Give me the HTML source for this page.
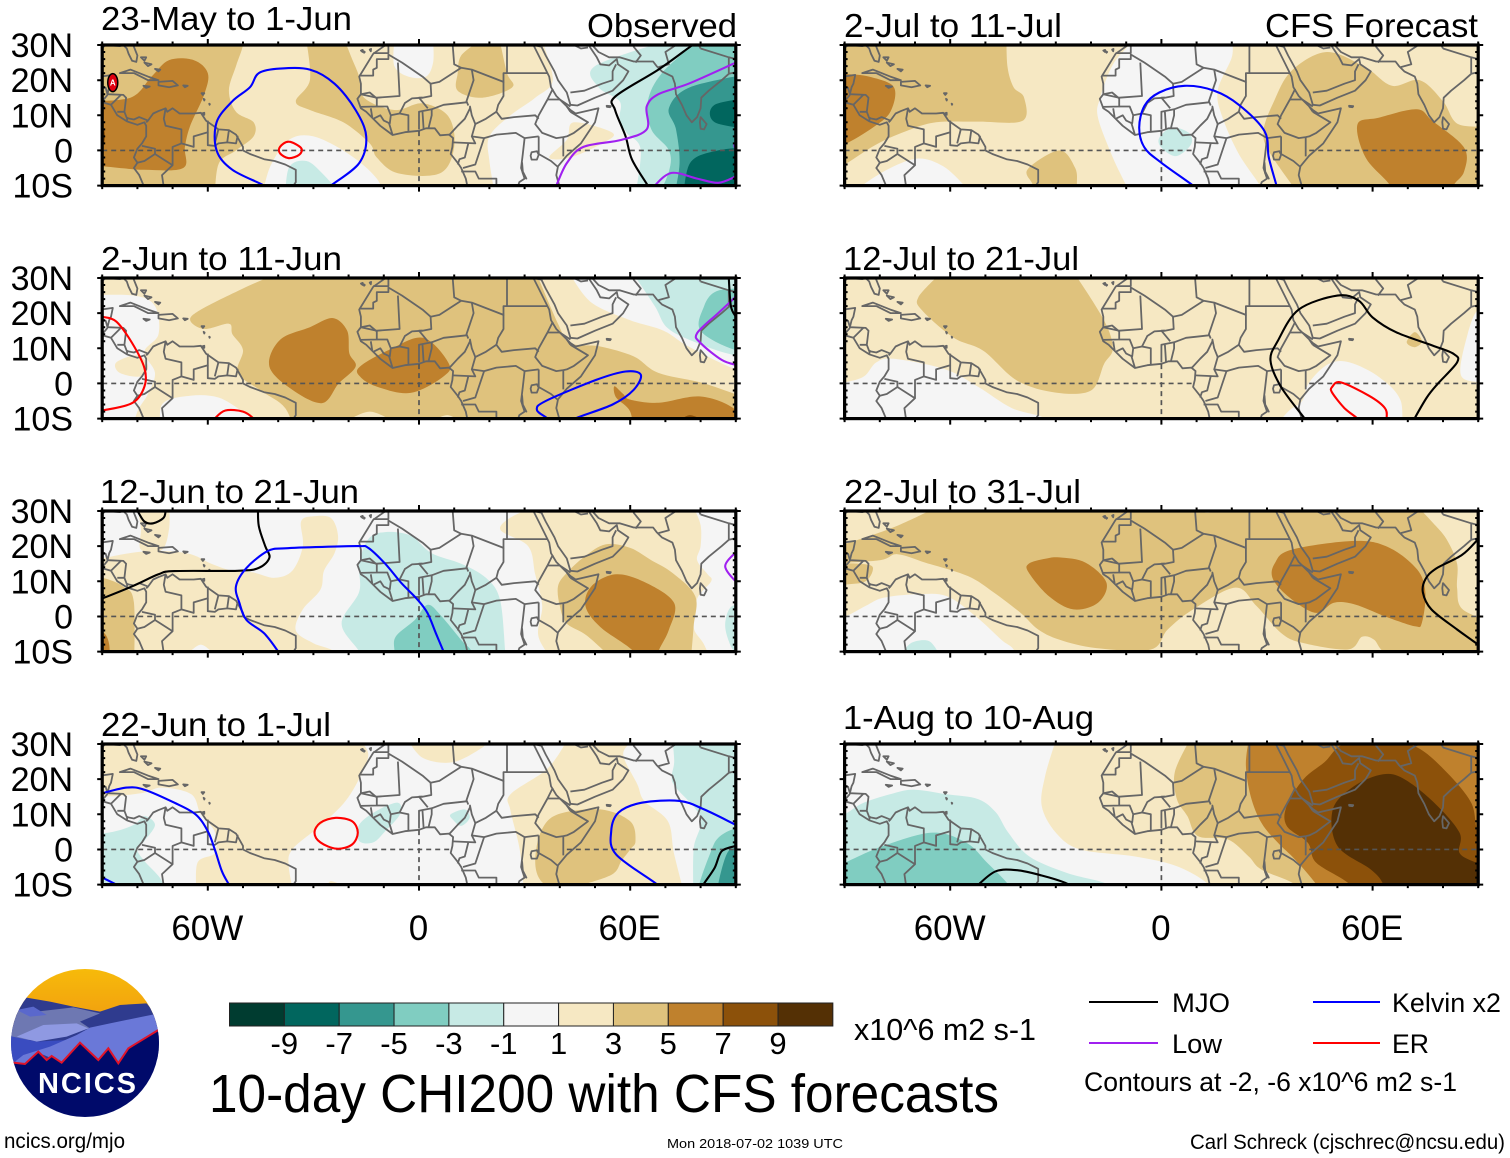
<!DOCTYPE html>
<html lang="en">
<head>
<meta charset="utf-8">
<title>10-day CHI200 with CFS forecasts</title>
<style>
html,body{margin:0;padding:0;background:#fff;width:1510px;height:1158px;overflow:hidden}
svg{display:block;font-family:"Liberation Sans",Arial,sans-serif}
</style>
</head>
<body>
<svg id="chart" xmlns="http://www.w3.org/2000/svg" width="1510" height="1158" viewBox="0 0 1510 1158">
  <rect x="0" y="0" width="1510" height="1158" fill="#fff"/>
  <g id="panels"></g>
  <g id="colorbar"></g>
  <text x="854" y="1040" font-size="31" textLength="182" lengthAdjust="spacingAndGlyphs">x10^6 m2 s-1</text>
  <text x="209" y="1112" font-size="54" textLength="790" lengthAdjust="spacingAndGlyphs">10-day CHI200 with CFS forecasts</text>
  <g>
    <line x1="1089" x2="1158" y1="1002" y2="1002" stroke="#000" stroke-width="2"/>
    <text x="1172" y="1012" font-size="27" textLength="58" lengthAdjust="spacingAndGlyphs">MJO</text>
    <line x1="1313" x2="1380" y1="1002" y2="1002" stroke="#0000ff" stroke-width="2"/>
    <text x="1392" y="1012" font-size="27" textLength="109" lengthAdjust="spacingAndGlyphs">Kelvin x2</text>
    <line x1="1089" x2="1158" y1="1043" y2="1043" stroke="#a020f0" stroke-width="2"/>
    <text x="1172" y="1053" font-size="27" textLength="50" lengthAdjust="spacingAndGlyphs">Low</text>
    <line x1="1313" x2="1380" y1="1043" y2="1043" stroke="#ff0000" stroke-width="2"/>
    <text x="1392" y="1053" font-size="27" textLength="37" lengthAdjust="spacingAndGlyphs">ER</text>
    <text x="1084" y="1091" font-size="27" textLength="373" lengthAdjust="spacingAndGlyphs">Contours at -2, -6 x10^6 m2 s-1</text>
  </g>
  <text x="4" y="1148" font-size="21" textLength="121" lengthAdjust="spacingAndGlyphs">ncics.org/mjo</text>
  <text x="667" y="1148" font-size="13" textLength="176" lengthAdjust="spacingAndGlyphs">Mon 2018-07-02 1039 UTC</text>
  <text x="1190" y="1149" font-size="21" textLength="315" lengthAdjust="spacingAndGlyphs">Carl Schreck (cjschrec@ncsu.edu)</text>
  <g>
    <defs>
      <clipPath id="logoClip"><circle cx="85" cy="1043" r="74"/></clipPath>
      <linearGradient id="logoSky" x1="0" y1="0" x2="0" y2="1"><stop offset="0" stop-color="#f7bb0a"/><stop offset="1" stop-color="#f09a10"/></linearGradient>
    </defs>
    <g clip-path="url(#logoClip)">
      <rect x="10" y="968" width="150" height="60" fill="url(#logoSky)"/>
      <g transform="translate(0,960) scale(0.3333)">
        <polygon fill="#2f3b8e" points="30,190 75,112 150,125 220,140 300,155 360,135 440,130 490,190 490,300 30,300"/>
        <polygon fill="#6e78b2" points="30,170 60,150 110,155 220,142 300,160 240,185 270,205 100,240 30,240"/>
        <polygon fill="#5a68cc" points="50,150 100,140 140,165 90,170"/>
        <polygon fill="#3a4cc0" points="30,228 110,245 200,240 120,290 50,310 30,310"/>
        <polygon fill="#8f99e2" points="50,230 130,195 230,190 265,205 200,230 110,245"/>
        <polygon fill="#6a78d8" points="45,305 70,285 150,260 230,225 270,203 330,190 462,163 480,210 380,270 355,310 295,300 240,248 185,308 120,280 75,312"/>
        <polygon fill="#000a6a" points="35,305 75,312 115,275 140,300 155,288 185,308 240,248 295,300 325,265 355,310 385,265 480,208 490,480 30,480"/>
        <polyline fill="none" stroke="#e0142a" stroke-width="6" points="40,308 75,312 115,275 140,300 155,288 185,308 240,248 295,300 325,265 355,310 385,265 475,210"/>
      </g>
      <text x="38" y="1093" font-size="29" font-weight="bold" fill="#fff" textLength="98" lengthAdjust="spacing">NCICS</text>
    </g>
  </g>
</svg>
<script>
// ---- axis tick labels
const lonTickValues = [-60, 0, 60];
const lonTickLabels = ["60W", "0", "60E"];
const latTickValues = [30, 20, 10, 0, -10];
const latTickLabels = ["30N", "20N", "10N", "0", "10S"];

// ---- colour scale
const barLevels = [-10, -8, -6, -4, -2, 0, 2, 4, 6, 8, 10];
const barColors = ["#003c30", "#01665e", "#35978f", "#80cdc1", "#c7eae5", "#f5f5f5", "#f6e8c3", "#dfc27d", "#bf812d", "#8c510a", "#543005"];
const barTickLabels = ["-9", "-7", "-5", "-3", "-1", "1", "3", "5", "7", "9"];

// ---- panel titles
const panelTitles = ["23-May to 1-Jun", "2-Jun to 11-Jun", "12-Jun to 21-Jun", "22-Jun to 1-Jul", "2-Jul to 11-Jul", "12-Jul to 21-Jul", "22-Jul to 31-Jul", "1-Aug to 10-Aug"];

// ---- background CHI200 level per panel (x10^6 m2 s-1)
const panelBaseLevels = [2, 2, 0, 0, 2, 2, 2, 0];

// ---- filled anomaly regions: [level, [lon,lat,lon,lat,...]]  painted in order
const fills1 = [
  [4, [-95,35,-50,35,-50,30,-52,24,-54,17,-52,11,-47,8,-47,4,-52,0,-57,-4,-58,-15,-95,-15]],
  [6, [-95,14,-82,15,-76,21,-71,25.7,-64,25.7,-60,22,-61,16,-65,7,-66.5,1,-67,-5,-78,-5.5,-90,-4.5,-95,-4]],
  [8, [-92,10,-89.5,6,-89.5,2,-92,-2]],
  [4, [-32,31,-21,31,-19,26,-17,21,-15.6,15,-7,11.5,1,13.4,8.4,9.6,10,1,6,-6.5,-6,-6.5,-12,-2,-14,2,-21.5,8,-31,11.5,-35,14,-31,20]],
  [4, [12,27,17,31,23,31,25,22,26.5,18,18,15,11,17,11,22]],
  [0, [-7,31,-7,24,-3,21,2,21,4,25,4,31]],
  [0, [-44,-10.5,-42,-4,-37,3,-30,4,-20,-1,-12,-8,-9,-15,-44,-15]],
  [-2, [-38,-15,-37,-5,-32,-3,-27,-7,-20,-15]],
  [0, [35,31,38,20,33,15,26,10,20,4,20,-3,22,-15,100,-15,100,31]],
  [2, [37,-2,42,3,44,8,55,5,52,2,43,-2]],
  [-2, [70,31,50,24,51,18,57,14,57,9,59,5,63,0,61,-15,100,-15,100,31]],
  [-4, [79,31,69,22,65,14,66,6,71,0,71,-6,67,-15,100,-15,100,31]],
  [-6, [95,22,77,18,71,12,73,6,74,-4,72,-15,100,-15,100,22]],
  [-8, [95,15,84,13,84,8,95,6]],
  [-8, [95,1,85,0,77,-3.6,75,-15,100,-15]]
];
const fills2 = [
  [4, [-41,31,-50,27,-62,21,-65,18,-61,15.5,-54,17,-53,14,-50,9.5,-51.5,3,-45,-2,-38,-7,-35,-15,95,-15,95,-5,81,0,68,3,61,7.7,51.5,10.5,43,11.5,39.5,17,33.5,31]],
  [6, [-24.5,18.6,-20.4,15,-19.8,8.6,-18,4.8,-22.8,0,-27.5,-5.6,-36,-1.8,-42.5,4.8,-39.5,12.4,-31,16]],
  [6, [-16.8,4.8,-8.4,9.6,1.2,13,8.4,5.8,7,2,-2.4,-2.7,-12,-0.9,-16.8,2]],
  [6, [55.5,-0.8,58,-3,60,-4.6,68,-5.5,80,-3.7,90,-7.5,95,-15,61,-15,60,-8,56,-4]],
  [8, [74,-10.5,77,-9,81,-10.5]],
  [2, [-21,-11,-14,-8,-7,-11]],
  [2, [3,-11,8,-9,12,-11]],
  [0, [-95,25,-81,25,-75,22,-74,14,-78,9,-75,3,-77,-3,-80,-8,-82,-15,-95,-15]],
  [2, [-86,6,-80,8,-77,5,-79,2,-85,3]],
  [0, [-73,-15,-73,-6,-65,-3.5,-57,-4,-50,-8,-45,-11,-44,-15]],
  [2, [43,31,100,31,100,2,90,5,76,11,70,15,60,18,49,23]],
  [0, [43,31,49,23,60,18,69.5,15,76.6,10.5,90,4,100,2,100,31]],
  [-2, [61,31,67,22,70.7,15.7,79,11.5,90,8,100,8,100,31]],
  [-4, [90,27,84,26,81,22,80,15,90,9.5,100,9,100,27]]
];
const fills3 = [
  [2, [-95,15,-90,16.5,-78,18.5,-66,18,-59,15,-53,13,-47,12.5,-41,11,-36,13,-33,20,-33.5,27,-30,28.5,-25,28,-23,23,-24,18,-27,13,-28,7.6,-33,2,-35,-4,-30,-7.6,-24,-10,-21,-15,-95,-15]],
  [2, [-80,31,-71,31,-71,25,-73,19,-79,19,-79,25]],
  [0, [-66,-11,-62,-8,-58,-11]],
  [4, [-95,11,-90,11,-84,8.5,-81,4,-81,-15,-95,-15]],
  [6, [-95,-4,-90,-4.3,-88,-8,-88,-15,-95,-15]],
  [-2, [-9.6,24,-2.4,23,3.6,18,12,15,19,11,23,4.8,24.5,-10,25,-15,-15,-15,-17,-10,-22,-2,-17,7,-17,15,-14.4,22]],
  [-4, [2.4,3.3,6,0.5,12,-6.7,15,-10,16,-15,-7,-15,-7,-10,-6.6,-5.7,-1.2,-1]],
  [2, [23,25,30,30,40,31,78,31,80,26,80,20,79,16,82,12,83,10,79,5,78,-3,81,-8,84,-15,40,-15,34,-6,35,3,33,12,31,20]],
  [4, [53,20.5,60,19.5,66,16,72,12.4,78.5,5.7,78,-3,77,-15,58,-15,48,-5.7,42,-2,40,3,39.5,8.6,42,12.4,47,17]],
  [6, [56,12,64.7,9.5,72.5,3.8,71,-3.8,68,-10,67,-15,62,-15,61,-10,51.5,-3,47.3,2.9,49,8.6]],
  [-2, [95,3,89,3,87,-2,88,-7,90,-10,95,-10]]
];
const fills4 = [
  [2, [-95,18,-90,15.2,-79,16,-73,17.6,-64.7,15.7,-62,10,-58,5,-58,-1,-63,-4,-63,-15,-35,-15,-37,-5,-36,0,-29,6,-21.5,13,-16.8,20.5,-14.4,27,-16.8,31,-95,31]],
  [2, [-3,31,1.2,26,9.6,24.8,18,29,19,31]],
  [2, [-26,-11,-25,-9,-20,-11]],
  [2, [42,31,36.5,23,26,15.7,26,11,28.7,-0.5,30,-15,76,-15,72.5,-1.4,70.7,8,64,13.8,62,18.6,58,27,61,31]],
  [4, [39.5,10,51.5,11.4,60,8,61.5,2.4,60,0,57.5,-3.3,55,-7,46.7,-10,40,-12,34.7,-9,33,-3.3,34.7,5.2]],
  [-2, [72,31,72.5,25,71.8,20.5,73,17.6,80,9,78,0,78,-15,100,-15,100,31]],
  [-4, [95,6,90,6,85,3.3,82.6,-1.4,79.6,-10,79,-15,95,-15]],
  [-6, [95,0.5,90,0.5,87.4,-1.4,85,-10,85,-15,95,-15]],
  [-2, [-95,4,-87,5,-81,7,-78,9.5,-75,7,-78,2.4,-80,0,-78,-3.3,-73,-9,-72,-15,-95,-15]],
  [-2, [-17,2.4,-17,7,-12,11,-6,13.3,-5.4,10,-9.6,5.2,-13,2]],
  [-2, [9,10,13,11.4,14.4,9,12,6.7,9.6,8.5]]
];
const fills5 = [
  [4, [-95,31,-44,31,-43.7,23.6,-42,18,-39,15,-39.5,8.4,-52,8.2,-64,8,-72.5,5.5,-81,1.7,-90,-4,-95,-6]],
  [6, [-95,21.7,-89,21.7,-83,21,-76,18,-77,11,-82,6.5,-90,1.7,-95,0]],
  [0, [-90,-15,-85,-10,-77,-5,-69,-2.3,-62,-4.5,-56,-10,-52,-15]],
  [4, [-38,-5.4,-29,0,-24.5,-5,-24,-10,-24,-15,-37,-15,-36.5,-10]],
  [0, [-8,31,-13.7,24.6,-17.4,15,-18,9.3,-13.8,-2,-10,-10,-8,-15,30,-15,28,-10,22,-1,17.4,9.3,16,17,20,26.5,20,31]],
  [-2, [3,6.5,7.8,5,8.4,1.7,4.2,-1.6,0,0.8,-0.6,3.6]],
  [4, [47,28,58,23.6,65.5,18.4,73.4,20,80,14,84.5,7.4,95,7,95,-15,41,-15,31,-1,29,5.5,32,14,37,22.7]],
  [6, [72.5,11.7,77,8.4,86,0.8,86,-6,83,-10,82,-15,66,-15,65,-10,58,-2,55.7,7.4,61.7,9.3]]
];
const fills6 = [
  [4, [-63,31,-69,24.6,-68,20.8,-59,13,-50.6,9.3,-41,0.8,-30,-2.6,-20,-2,-16.3,5.5,-13.8,10,-16.3,18,-24.5,31]],
  [0, [-95,0,-90,0.3,-84.5,2,-81,6,-76,7,-61.4,4,-52,-1,-42.5,-7,-33,-10,-30,-15,-95,-15]],
  [0, [42,0.3,47.4,5.5,53.4,6,62,1.7,68,-5,68,-15,30,-15,36,-8,40,-5]],
  [0, [95,21,90,21,87,14,85,2.7,90,0.3,95,0]],
  [4, [72,14.6,74,12,72,10.3,69.7,11.7]]
];
const fills7 = [
  [4, [-64,31,-77,25,-95,19,-95,15,-80,16,-75,17.7,-67,15.3,-55,11.5,-47.6,6.8,-40,1,-35,-3.7,-29,-6.6,-18.5,-9,-3,-9.4,1.8,-3.7,9,2,21,8.2,27,3,34,-4.7,40,-7.5,53,-9.4,57,-5.8,60.4,-6.6,63,-10,70,-15,95,-15,95,-2,85.6,2,84,8,84,15,81,22,77,26.8,73,31]],
  [4, [-95,15,-86,15,-82,14,-84,10,-90,9,-95,8]],
  [2, [9,31,13,29.5,20,31]],
  [0, [-95,0,-90,0,-84,3,-79,5.3,-69.5,6.3,-61,5.8,-52.7,0,-45.5,-6.6,-42,-9.4,-40,-15,-95,-15]],
  [-2, [-74,-11,-71,-7.5,-66,-7,-63,-11]],
  [6, [-37.7,15,-33,16.4,-29,16.8,-21.5,15.3,-15.6,9.6,-18,3.9,-25,2,-32,5.8,-37.7,12.5]],
  [6, [37,19,55,21.5,64.7,19.6,72.6,13.4,75,6.8,74,-1.8,72,-2.8,63.6,0,55,3.4,49,3.9,44,1,37,4.9,31.7,10.6,32.3,15.3]]
];
const fills8 = [
  [-2, [-95,8,-90,10,-84.6,13.3,-76,16,-70,17,-61,15.7,-52,14.3,-47,10.5,-43.5,4.8,-37.5,-2,-26.8,-6.7,-15,-10,-10,-15,-95,-15]],
  [-4, [-95,-6,-90,-3.8,-79,1,-65,4.8,-55.4,1.9,-49.5,-3.8,-43.5,-10,-41,-15,-95,-15]],
  [2, [-30,31,-33,21,-34,12.4,-30,4.8,-23,0,-7.5,-2,4.4,-4.8,13.4,-10,15,-15,95,-15,95,31]],
  [4, [8,31,3.8,22,4.4,14.3,7.4,9.5,10.4,3.8,18.8,2.9,24.8,-2,28.4,-5.7,38,-10,40,-15,95,-15,95,31]],
  [6, [24.8,31,24,23.8,25.4,15,28.4,7.6,33,2,38,-2.9,44,-10,46,-15,95,-15,95,31]],
  [8, [52,30,64,30.5,72.7,29,81,22,88,13.3,90,5,95,3,95,-15,53.5,-15,53.5,-10,44,-3.8,41.6,1.9,35.6,6.7,35.6,12.4,40.4,20,46.3,24.8]],
  [10, [63,21.4,69,20,77.5,13.3,84.7,4.8,84.7,-1,89.5,-3.8,95,-6,95,-15,63,-15,63,-10,59.5,-5.7,50,1,48.7,11.4,54.7,18]]
];
const allFills = [fills1, fills2, fills3, fills4, fills5, fills6, fills7, fills8];

// ---- filtered-wave contours: [wave, closed, [lon,lat,...]]
const contours1 = [
  ["kelvin", false, [-42,-12,-44,-10,-53,-5.5,-57.5,0,-57.5,8,-53,14,-48,18,-45.5,22,-39.5,23.3,-31,23,-24,19,-18,11.5,-15,4,-17,-3.6,-25,-10,-27,-12]],
  ["er", true, [-39.5,1,-37,2.5,-33.5,0.7,-34,-1.2,-37,-2.2,-39.5,-0.8]],
  ["mjo", false, [79,31,77,29.5,68,23,55.7,15.3,55.7,11.5,58.7,4,60.5,-2.6,65,-10,66,-12]],
  ["low", false, [38,-12,39,-10,42,-3.6,46.7,1,57.5,3,64.7,6,64.7,12.5,68,16,76.6,19,90,25]],
  ["low", false, [66,-12,67,-10,71.8,-6.4,79,-8,85,-9.2,90,-7.4]],
  ["low", false, [91,4,89.6,1.5,91,-1]]
];
const contours2 = [
  ["er", false, [-92,19.5,-90,19,-86,17.6,-81.5,11.5,-78,4.4,-78,-0.9,-81.5,-5.6,-90,-7.7,-92,-8]],
  ["er", false, [-59,-12,-58,-10,-55,-7.7,-50,-8,-47,-10,-46,-12]],
  ["kelvin", false, [38,-12,36.5,-10,33.5,-7.5,36,-5,50.3,1,58.7,3.4,63,2.5,61,-1.8,55,-6,44.3,-10,42,-12]],
  ["low", false, [90,24.7,85,20,79,14.3,80,11.5,86,6.7,90,5.3]],
  ["mjo", false, [88,30,88.6,22,90,19]]
];
const contours3 = [
  ["mjo", false, [-81,31,-80,30,-78,27,-75.5,26.5,-72.6,28,-72,30,-72,31]],
  ["mjo", false, [-45.7,31,-45.5,25.7,-43.7,20,-42.5,16.7,-45.5,13.8,-51.5,13,-69.5,12.9,-74,12,-81.4,8.6,-90,5.1]],
  ["kelvin", false, [8,-12,7,-10,4.8,-4.8,2.4,1,-0.6,5,-5,9.5,-9.6,15,-14.4,19.5,-17,20,-27.5,19.8,-38,19.4,-43,18.6,-49,13.8,-52,8.6,-51,3.8,-49,-1,-44,-4.8,-40,-10,-39,-12]],
  ["low", false, [91,19,87,14.3,91,9]]
];
const contours4 = [
  ["kelvin", false, [-92,15.5,-90,16,-83,17.6,-78,17,-69.5,13.3,-63.5,10,-60,5.2,-58,0,-56,-6.2,-54,-10,-53,-12]],
  ["kelvin", false, [-92,-7,-90,-8,-86,-10,-84,-11]],
  ["kelvin", false, [69,-12,67.7,-10,56,-1.4,54.6,5.2,56.7,10.5,63.3,13.3,74,13.8,81,11.4,90,7]],
  ["er", true, [-23.6,9,-19,8,-17.4,4.8,-19,1.4,-23.4,0.2,-28,2,-29.7,4.8,-28,7.6]],
  ["mjo", false, [80,-12,80.8,-10,84,-5.2,86,-0.5,90,1]]
];
const contours5 = [
  ["kelvin", false, [11,-12,9,-10,0,-3.5,-4.8,0.8,-6.3,6.5,-4.8,12.7,-0.6,16.5,6.6,18.4,15,17,22,13,29.3,5.5,30.5,-2,32.7,-10,33,-12]]
];
const contours6 = [
  ["mjo", false, [42,-12,40.7,-10,34,-1,31,6.5,33,12,39,21,50,25,56,23.6,60,18.8,66.6,14.6,77,10.8,83,8.4,84,6,78.4,-0.2,75.4,-4,71.9,-10,71,-12]],
  ["er", false, [57,-12,55.7,-10,52,-7,48.5,-2.6,48.5,-1,51,0.3,59,-3.5,63.5,-7,64,-10,64,-12]]
];
const contours7 = [
  ["mjo", false, [91,23,90,22,85.4,17.5,78,13.6,75,10.6,74.3,6.8,76.7,2,84,-3.7,90,-8]]
];
const contours8 = [
  ["mjo", false, [-54,-12,-52,-10,-47,-6.2,-41,-5.9,-34,-7.4,-27.3,-9.5,-25,-11]]
];
const allContours = [contours1, contours2, contours3, contours4, contours5, contours6, contours7, contours8];

// ---- tropical cyclone marker in first panel [lon,lat]
const cycloneMarker = [-87, 19.3];

// ---- coastlines and political borders [lon,lat,...]
const coastLines = [
  [-95,29,-90,29.2,-89,30,-85,29.7,-84,30,-83,29,-82.5,27.5,-81.5,25.5,-80.3,25.2,-80,27,-81.2,30,-81.5,31],
  [-92,18.5,-90.5,19,-90.3,21,-87,21.5,-87.5,19,-88,18,-88.5,16,-84,15.8,-83.2,15,-83.7,11,-83,9.2,-81,8.8,-79.5,9.5,-77,8.5,-75.5,10.5,-74,11.2,-72,12,-71.5,11,-70,12,-68,10.5,-64,10.5,-62,10.7,-60.5,8.5,-57,6,-54,5.8,-52,4.5,-50,1,-50,0,-48,-1,-44,-2.5,-41,-3,-38,-4,-35,-5.5,-35,-9,-36,-10.5],
  [-92,14.5,-90,13.7,-87.5,13,-85.7,10,-83,8.3,-80,7.3,-78,8,-77.5,7,-77.5,4,-78.7,2,-80,0.5,-81,-2,-80,-3.5,-81,-5,-79.5,-7,-78,-10.5],
  [-90.5,17.8,-89,17.8,-88.5,16],
  [-90,14,-88.5,15.8],[-87.5,13,-84.7,15.8],[-85.7,11,-83.7,11],[-83,8.3,-82.8,9.5],[-77.5,8,-77,8.5],
  [-72,12,-72.5,9,-72,7,-67.5,6,-67.5,2,-70,1,-70,-4.2],
  [-80,-3.5,-78,-3,-75,-1,-70,-4.2,-73,-7,-72.5,-10.5],
  [-78.7,1.3,-75,0.5,-75,-1],
  [-67.5,2,-64,1,-64,4,-60,5.2,-60,8.5],
  [-60,5.2,-60,1.5,-58,1.3,-57,2,-54.5,2.3,-52,2,-51.5,4.2],
  [-57,6,-58,2],[-54,5.8,-54.5,2.3],
  [-9.5,31,-9.5,30,-13,27.5,-17,21,-16.5,19,-16.5,16,-17.5,14.7,-16.5,12,-15,11,-13,9,-11,7,-7.5,4.4,-4,5.2,0,5.6,2,6.3,4.5,6.3,6,4.3,8.5,4.5,9.7,3.5,9.5,1,9,-1,11,-3.5,12,-5,13.3,-8,13.8,-10.5],
  [32.5,31,32.5,30,34,27,35.5,24,37,21,37.5,18,39,15.5,43,11.5,44.5,10.5,51,12,50,8,46,2,42,-1.5,39.5,-4.5,39,-7,40,-10.5],
  [34.8,29.5,36,27,38.5,22.5,39.5,20,42,16.5,43,13,45,12.8,50,15,55,17,58,20,59.5,22.5,56.5,24.5,56.2,26,54,24.2,51.5,24.5,50.5,26.5,48.5,29.5,48,31],
  [49,30.2,51,28,54,26.5,57,26.5,61,25.3,66.5,25.3,67.5,24,69,22.5,72,21,72.7,19,73,16,74.7,13,76,10,77.5,8,79,9.5,80,12,80.2,15,82.3,17,86,20,88,21.8,91,22.5],
  [32.5,30,34.8,29.5],
  [-13,27.7,-8.7,27.7,-8.7,31],
  [-17,21.3,-13,21.3,-13,23,-12,23.5,-12,26,-8.7,26,-8.7,27.3,-4.8,25,1,21,3.3,19,5.8,19.5,12,23.5,10,24.5,9.5,31],
  [-6,25,-5.5,15.5,-12,15,-16.5,16],
  [12,23.5,15,23,24,19.5,24,22,25,22,25,31],
  [25,22,36.5,22],
  [24,19.5,24,15.5,22.5,13,22,11,23.5,9,27,9.5,33,10,34,9],
  [15,23,15.5,20,13.5,14,14,12.8],
  [3.3,19,3.5,15.5,1,15,-2,14.8,-4,13.5,-5.5,10.5,-3,10,-3,5.2],
  [3.6,11.7,7,13,10,13.3,13.5,13.7],
  [2.7,6.3,3.6,10,3.6,11.7,0,11,0,6],
  [1.3,6.2,1,11],[1,15,0,15,2.5,12],
  [8.7,4.5,11,7,13,9,14.5,12,14.5,12.5,15,10,16,7.5,19,9,22,11],
  [9.7,2.3,16,2,15,4,16,7.5],
  [15,4,18.5,3.5,22,4.5,27.5,5,30,3.5,34,4],
  [36.5,14.5,34,10,33,7.5,35,5,39,3.5,41,3.8,42,4,44,5,48,8,43,11],
  [36.5,14.5,38,17.5],[36.5,14.5,40,14.5,43,12.5],[42,12.5,43,11],
  [41,-1.7,41,3.8],[34,4,34,1,34,-1,37.5,-3,39.5,-4.7],
  [18.5,3.5,17,-1,16,-4,12.5,-5],
  [12,-6,16,-6,17,-8,22,-8,22,-10.5],
  [30,3.5,29.5,-1,29,-5,30,-8,28.5,-9,28,-10.5],
  [14,2,13,-2,11.5,-2.5,11,-4],
  [-16.5,16,-14,16.5,-12,14.8,-12,12.5,-16.7,12.4],
  [-13.7,12,-13.3,9.5],[-12,12.5,-9,12.5,-8,10,-8.3,7.7,-10,8.5,-11,10,-13,9],[-8.5,7.7,-7.5,4.4],[-8,10,-5.5,10.5],
  [43,16.5,47,17,52,19,55,20,55,22.5,56,24.5],
  [36,31,37,30,39,31],[48,29.3,46,29,44,30,42,31],
  [68,23.7,71,24.5,70,28,73,30,74,31],
  [61.5,25,63,27,61,29.5,61,31],
  [80,29,88,26.5,88,22],[88,26.5,92,25.5,92,21],[80,29,79,31]
];
const closedLakesIslands = [
  [32,-0.5,33.5,-0.2,34,-1.2,33.5,-2.6,32,-2.6,31.7,-1.5],
  [29.3,-3.5,29.5,-6,30.5,-8,29.5,-6.5],
  [80,9.5,81.7,7.5,81,6,80,6.2,79.8,8],
  [-85,22,-82,23,-77,21,-74,20,-77,20,-81,22],
  [-74,19.5,-70,19.8,-68.5,18.5,-71,18,-74,18.5],
  [-78.3,18.4,-76.5,18.2,-77.5,17.8],
  [-67,18.5,-65.7,18.4,-66.5,18],
  [-79,26.5,-77.5,26.5,-78,25.5],[-78,25,-77,24,-76,24.5],[-75,23.2,-74,22.5,-73.5,23],
  [-61.8,16.3,-61,16.3,-61.4,15.8],[-61.2,14.7,-60.9,14.5,-61,14.2],[-59.6,13.3,-59.4,13.2,-59.5,13],[-61.7,10.5,-61,10.7,-61,10.1],
  [-16.5,28.4,-16,28.6,-16,28],[-15.7,28.2,-15.4,28,-15.6,27.8],[-14,28.7,-13.6,28.9,-13.7,28.2],
  [53.3,12.7,54.5,12.6,54.3,12.3,53.4,12.4]
];

// ---- layout (pixels)
const NS = "http://www.w3.org/2000/svg";
const LEFT_COL = 102.2, RIGHT_COL = 844.6, PX_PER_DEG_X = 3.52, PX_PER_DEG_Y = 3.515;
const PANEL_TOPS = [45, 278, 511, 744];
const PANEL_W = 180 * PX_PER_DEG_X, PANEL_H = 40 * PX_PER_DEG_Y;
const waveColors = { mjo: "#000000", low: "#a020f0", kelvin: "#0000ff", er: "#ff0000" };

function levelColor(level) { return barColors[barLevels.indexOf(level)]; }
function make(tag) { return document.createElementNS(NS, tag); }
function xScale(left, lon) { return left + (lon + 90) * PX_PER_DEG_X; }
function yScale(top, lat) { return top + (30 - lat) * PX_PER_DEG_Y; }
function fmt(v) { return v.toFixed(1); }

function projectPoints(flat, left, top) {
  const out = [];
  for (let i = 0; i < flat.length; i += 2) {
    const offMap = flat[i] < -90 || flat[i] > 90 || flat[i + 1] > 30 || flat[i + 1] < -10;
    out.push([xScale(left, flat[i]), yScale(top, flat[i + 1]), offMap]);
  }
  return out;
}
function smoothPath(pts, closed) {
  const n = pts.length;
  const at = i => closed ? pts[(i + n) % n] : pts[Math.max(0, Math.min(n - 1, i))];
  let d = "M" + fmt(pts[0][0]) + " " + fmt(pts[0][1]);
  const last = closed ? n : n - 1;
  for (let i = 0; i < last; i++) {
    const p0 = at(i - 1), p1 = at(i), p2 = at(i + 1), p3 = at(i + 2);
    const k = 1 / 6;
    // off-map corners stay sharp so they do not bulge back into the frame
    const k1 = p1[2] ? 0 : k, k2 = p2[2] ? 0 : k;
    d += "C" + fmt(p1[0] + (p2[0] - p0[0]) * k1) + " " + fmt(p1[1] + (p2[1] - p0[1]) * k1) + " " +
      fmt(p2[0] - (p3[0] - p1[0]) * k2) + " " + fmt(p2[1] - (p3[1] - p1[1]) * k2) + " " + fmt(p2[0]) + " " + fmt(p2[1]);
  }
  return d + (closed ? "Z" : "");
}
function straightPath(pts, closed) {
  return "M" + pts.map(p => fmt(p[0]) + " " + fmt(p[1])).join("L") + (closed ? "Z" : "");
}

function drawPanel(index) {
  const col = index < 4 ? 0 : 1;
  const left = col === 0 ? LEFT_COL : RIGHT_COL;
  const top = PANEL_TOPS[index % 4];
  const root = document.getElementById("panels");

  const g = make("g");
  
  
  root.appendChild(g);

  const clip = make("clipPath");
  clip.setAttribute("id", "clip" + index);
  const clipRect = make("rect");
  clipRect.setAttribute("x", left);
  clipRect.setAttribute("y", top);
  clipRect.setAttribute("width", PANEL_W);
  clipRect.setAttribute("height", PANEL_H);
  clip.appendChild(clipRect);
  g.appendChild(clip);

  const plot = make("g");
  plot.setAttribute("clip-path", "url(#clip" + index + ")");
  
  
  g.appendChild(plot);

  const base = make("rect");
  
  
  base.setAttribute("x", left);
  base.setAttribute("y", top);
  base.setAttribute("width", PANEL_W);
  base.setAttribute("height", PANEL_H);
  base.setAttribute("fill", levelColor(panelBaseLevels[index]));
  plot.appendChild(base);

  allFills[index].forEach(function (shape) {
    const path = make("path");
    
    
    path.setAttribute("d", smoothPath(projectPoints(shape[1], left, top), true));
    path.setAttribute("fill", levelColor(shape[0]));
    plot.appendChild(path);
  });

  coastLines.forEach(function (line) {
    const path = make("path");
    
    
    path.setAttribute("d", straightPath(projectPoints(line, left, top), false));
    path.setAttribute("fill", "none");
    path.setAttribute("stroke", "#666");
    path.setAttribute("stroke-width", "1.8");
    path.setAttribute("stroke-linejoin", "round");
    plot.appendChild(path);
  });
  closedLakesIslands.forEach(function (line) {
    const path = make("path");
    
    
    path.setAttribute("d", straightPath(projectPoints(line, left, top), true));
    path.setAttribute("fill", "none");
    path.setAttribute("stroke", "#666");
    path.setAttribute("stroke-width", "1.8");
    path.setAttribute("stroke-linejoin", "round");
    plot.appendChild(path);
  });

  [[-90, 0, 9, 0], [42, 0, 90, 0], [0, 5.5, 0, -10]].forEach(function (s) {
    const ref = make("line");
    
    
    ref.setAttribute("x1", xScale(left, s[0]));
    ref.setAttribute("y1", yScale(top, s[1]));
    ref.setAttribute("x2", xScale(left, s[2]));
    ref.setAttribute("y2", yScale(top, s[3]));
    ref.setAttribute("stroke", "#555");
    ref.setAttribute("stroke-width", "1.7");
    ref.setAttribute("stroke-dasharray", "5 4");
    plot.appendChild(ref);
  });

  allContours[index].forEach(function (c) {
    const path = make("path");
    
    
    path.setAttribute("d", smoothPath(projectPoints(c[2], left, top), c[1]));
    path.setAttribute("fill", "none");
    path.setAttribute("stroke", waveColors[c[0]]);
    path.setAttribute("stroke-width", "2.1");
    plot.appendChild(path);
  });

  if (index === 0) {
    const cx = xScale(left, cycloneMarker[0]), cy = yScale(top, cycloneMarker[1]);
    const tc = make("ellipse");
    
    
    tc.setAttribute("cx", cx);
    tc.setAttribute("cy", cy);
    tc.setAttribute("rx", "5");
    tc.setAttribute("ry", "9");
    tc.setAttribute("fill", "#e00010");
    tc.setAttribute("stroke", "#000");
    tc.setAttribute("stroke-width", "1.5");
    g.appendChild(tc);
    const tcText = make("text");
    
    
    tcText.setAttribute("x", cx);
    tcText.setAttribute("y", cy + 3);
    tcText.setAttribute("font-size", "8");
    tcText.setAttribute("font-weight", "bold");
    tcText.setAttribute("fill", "#fff");
    tcText.setAttribute("text-anchor", "middle");
    tcText.textContent = "A";
    g.appendChild(tcText);
  }

  // frame
  const frame = make("rect");
  
  
  frame.setAttribute("x", left);
  frame.setAttribute("y", top);
  frame.setAttribute("width", PANEL_W);
  frame.setAttribute("height", PANEL_H);
  frame.setAttribute("fill", "none");
  frame.setAttribute("stroke", "#000");
  frame.setAttribute("stroke-width", "3.2");
  g.appendChild(frame);

  // ticks
  let tickD = "";
  for (let lon = -90; lon <= 90; lon += 10) {
    const x = xScale(left, lon), len = lon % 60 === 0 && lon !== 90 && lon !== -90 ? 6 : 3.5;
    tickD += "M" + fmt(x) + " " + fmt(top) + "V" + fmt(top - len);
    tickD += "M" + fmt(x) + " " + fmt(top + PANEL_H) + "V" + fmt(top + PANEL_H + len);
  }
  for (let lat = -10; lat <= 30; lat += 2) {
    const y = yScale(top, lat), major = lat % 10 === 0, len = major ? 5 : 3;
    tickD += "M" + fmt(left) + " " + fmt(y) + "H" + fmt(left - (major ? len : 0)) + "M" + fmt(left) + " " + fmt(y) + "H" + fmt(left + (major ? 0 : len));
    tickD += "M" + fmt(left + PANEL_W) + " " + fmt(y) + "H" + fmt(left + PANEL_W + (major ? len : 0)) + "M" + fmt(left + PANEL_W) + " " + fmt(y) + "H" + fmt(left + PANEL_W - (major ? 0 : len));
  }
  const ticks = make("path");
  
  
  ticks.setAttribute("d", tickD);
  ticks.setAttribute("stroke", "#000");
  ticks.setAttribute("stroke-width", "2");
  ticks.setAttribute("fill", "none");
  g.appendChild(ticks);

  // y labels on left column
  if (col === 0) {
    latTickValues.forEach(function (lat, i) {
      const t = make("text");
      
      
      t.setAttribute("x", 73);
      t.setAttribute("y", yScale(top, lat) + 12);
      t.setAttribute("font-size", "34");
      t.setAttribute("text-anchor", "end");
      t.textContent = latTickLabels[i];
      g.appendChild(t);
    });
  }
  // x labels on bottom panels
  if (index % 4 === 3) {
    lonTickValues.forEach(function (lon, i) {
      const t = make("text");
      
      
      t.setAttribute("x", xScale(left, lon) - 0.5);
      t.setAttribute("y", 940);
      t.setAttribute("font-size", "35");
      t.setAttribute("text-anchor", "middle");
      t.textContent = lonTickLabels[i];
      g.appendChild(t);
    });
  }
}

for (let i = 0; i < 8; i++) drawPanel(i);

// panel titles (text metrics, placement)
const titleBoxes = [[101, 30, 251], [101, 270, 241], [100, 503, 259], [101, 736, 230], [844, 37, 218], [843, 270, 236], [844, 503, 237], [843, 729, 251]];
panelTitles.forEach(function (label, i) {
  const t = make("text");
  
  
  t.setAttribute("x", titleBoxes[i][0]);
  t.setAttribute("y", titleBoxes[i][1]);
  t.setAttribute("font-size", "33");
  t.setAttribute("textLength", titleBoxes[i][2]);
  t.setAttribute("lengthAdjust", "spacingAndGlyphs");
  t.textContent = label;
  document.getElementById("panels").appendChild(t);
});
const observedLabel = make("text");


observedLabel.setAttribute("x", 587);
observedLabel.setAttribute("y", 37);
observedLabel.setAttribute("font-size", "33");
observedLabel.setAttribute("textLength", 150);
observedLabel.setAttribute("lengthAdjust", "spacingAndGlyphs");
observedLabel.textContent = "Observed";
document.getElementById("panels").appendChild(observedLabel);
const forecastLabel = make("text");


forecastLabel.setAttribute("x", 1265);
forecastLabel.setAttribute("y", 37);
forecastLabel.setAttribute("font-size", "33");
forecastLabel.setAttribute("textLength", 213);
forecastLabel.setAttribute("lengthAdjust", "spacingAndGlyphs");
forecastLabel.textContent = "CFS Forecast";
document.getElementById("panels").appendChild(forecastLabel);

// colour bar
const cb = document.getElementById("colorbar");
const CB_X = 229.5, CB_W = 54.85, CB_Y = 1003, CB_H = 23;
barLevels.forEach(function (level, i) {
  const box = make("rect");
  
  
  box.setAttribute("x", CB_X + i * CB_W);
  box.setAttribute("y", CB_Y);
  box.setAttribute("width", CB_W);
  box.setAttribute("height", CB_H);
  box.setAttribute("fill", levelColor(level));
  box.setAttribute("stroke", "#222");
  box.setAttribute("stroke-width", "1");
  cb.appendChild(box);
});
barTickLabels.forEach(function (label, i) {
  const t = make("text");
  
  
  t.setAttribute("x", CB_X + (i + 1) * CB_W);
  t.setAttribute("y", 1054);
  t.setAttribute("font-size", "31");
  t.setAttribute("text-anchor", "middle");
  t.textContent = label;
  cb.appendChild(t);
});
</script>
</body>
</html>
